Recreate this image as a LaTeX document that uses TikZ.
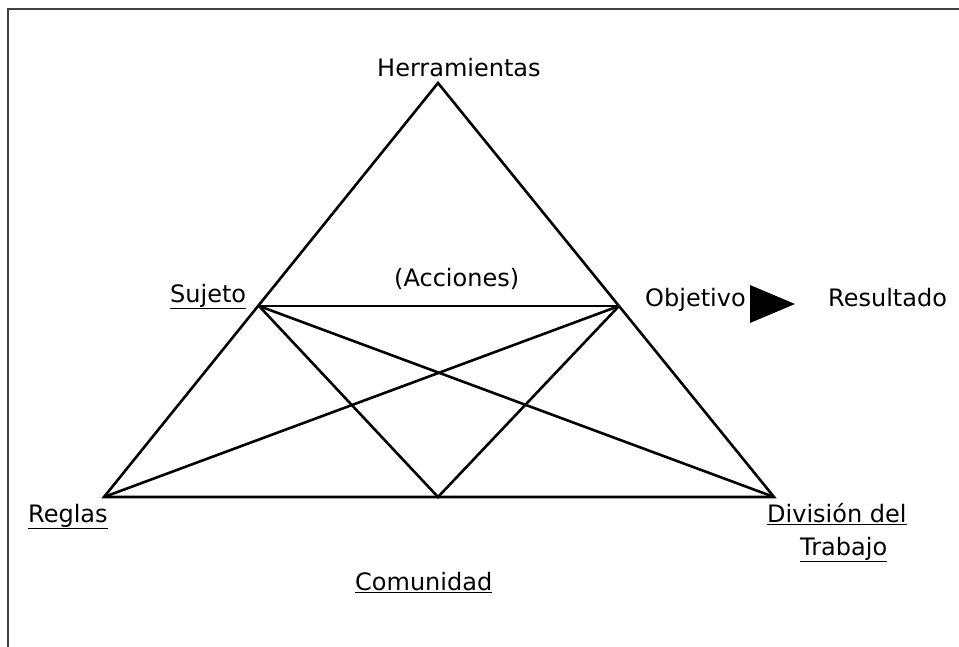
\documentclass[tikz,border=0pt]{standalone}
\usepackage{fontspec}
\setmainfont{DejaVu Sans}
\begin{document}
\begin{tikzpicture}[x=1pt,y=-1pt,
  lbl/.style={anchor=base west,inner sep=0pt,font=\fontsize{24}{29}\selectfont},
  edge/.style={line width=2.6pt,line join=miter,black},
  frame/.style={line width=2pt,black!75}]
\useasboundingbox (0,0) rectangle (959,647);
\fill[white] (0,0) rectangle (959,647);
% frame
\draw[frame] (959,9) -- (8,9) -- (8,647);
% vertices
\coordinate (H) at (438,83);
\coordinate (R) at (104,497);
\coordinate (D) at (774,497);
\coordinate (S) at (259,306);
\coordinate (O) at (619,306);
\coordinate (M) at (438,497);
% triangle
\draw[edge] (H) -- (R) -- (D) -- cycle;
\draw[edge] (S) -- (O);
\draw[edge] (S) -- (M) -- (O);
\draw[edge] (S) -- (D);
\draw[edge] (O) -- (R);
% arrow marker
\coordinate (a1) at (750,285);
\coordinate (a2) at (795,304);
\coordinate (a3) at (750,323);
\fill[black] (a1) -- (a2) -- (a3) -- cycle;
% labels
\node[lbl] (herr) at (377,77) {Herramientas};
\node[lbl] (suj) at (170,302) {\underline{Sujeto}};
\node[lbl] (acc) at (394,287) {(Acciones)};
\node[lbl] (obj) at (645,306) {Objetivo};
\node[lbl] (res) at (828,306) {Resultado};
\node[lbl] (reg) at (28,522) {\underline{Reglas}};
\node[lbl] (div) at (767,522) {\underline{División del}};
\node[lbl] (trab) at (800,555) {\underline{Trabajo}};
\node[lbl] (com) at (355,590) {\underline{Comunidad}};
\end{tikzpicture}
\end{document}
